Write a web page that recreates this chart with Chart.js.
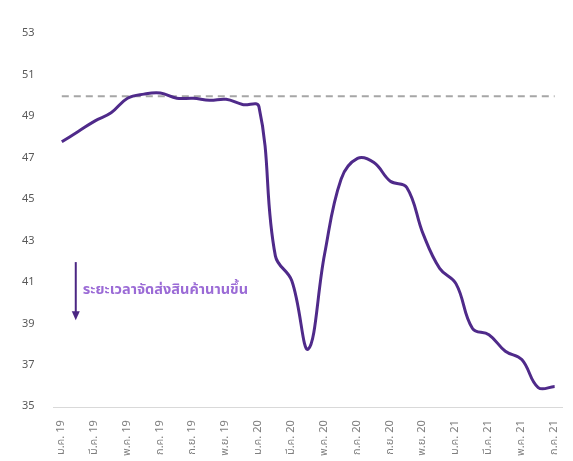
<!DOCTYPE html>
<html>
<head>
<meta charset="utf-8">
<script src="https://cdn.jsdelivr.net/npm/chart.js@4/dist/chart.umd.min.js"></script>
<style>
  html, body { margin: 0; padding: 0; background: #fff; }
  #box { width: 573px; height: 461px; }
</style>
</head>
<body>
<div id="box"><canvas id="grafico"></canvas></div>
<script>
// dados (mensal, ม.ค. 19 a ก.ค. 21)
const meses = [
  'ม.ค. 19','ก.พ. 19','มี.ค. 19','เม.ย. 19','พ.ค. 19','มิ.ย. 19','ก.ค. 19','ส.ค. 19','ก.ย. 19','ต.ค. 19','พ.ย. 19','ธ.ค. 19',
  'ม.ค. 20','ก.พ. 20','มี.ค. 20','เม.ย. 20','พ.ค. 20','มิ.ย. 20','ก.ค. 20','ส.ค. 20','ก.ย. 20','ต.ค. 20','พ.ย. 20','ธ.ค. 20',
  'ม.ค. 21','ก.พ. 21','มี.ค. 21','เม.ย. 21','พ.ค. 21','มิ.ย. 21','ก.ค. 21'
];
const valores = [
  47.8, 48.3, 48.8, 49.2, 49.9, 50.1, 50.15, 49.9, 49.9, 49.8, 49.85, 49.6,
  49.5, 42.3, 41.1, 37.8, 42.4, 46.0, 47.0, 46.8, 45.9, 45.6, 43.35, 41.7,
  40.95, 38.8, 38.5, 37.7, 37.3, 35.95, 36.0
];
const linhaReferencia = 50;
const ticksY = [35, 37, 39, 41, 43, 45, 47, 49, 51, 53];
const textoAnotacao = 'ระยะเวลาจัดส่งสินค้านานขึ้น';

const fonteThai = "'Noto Sans Thai', Tahoma, 'Noto Sans', sans-serif";

// seta + texto da anotacao, posicionados pelas escalas
const pluginAnotacao = {
  id: 'anotacao',
  afterDatasetsDraw(chart) {
    const { ctx, scales } = chart;
    const x = scales.x.getPixelForValue(0.85);
    const yTopo = scales.y.getPixelForValue(42.0);
    const yFim = scales.y.getPixelForValue(39.2);
    ctx.save();
    ctx.strokeStyle = '#4B2683';
    ctx.fillStyle = '#4B2683';
    ctx.lineWidth = 2;
    ctx.beginPath();
    ctx.moveTo(x, yTopo);
    ctx.lineTo(x, yFim - 8);
    ctx.stroke();
    ctx.beginPath();
    ctx.moveTo(x - 4, yFim - 9);
    ctx.lineTo(x + 4, yFim - 9);
    ctx.lineTo(x, yFim);
    ctx.closePath();
    ctx.fill();
    ctx.fillStyle = '#9B6BD6';
    ctx.font = 'bold 14.5px ' + fonteThai;
    ctx.textBaseline = 'middle';
    ctx.fillText(textoAnotacao, x + 7, scales.y.getPixelForValue(40.6));
    ctx.restore();
  }
};

document.addEventListener('DOMContentLoaded', () => {
  const contexto = document.getElementById('grafico').getContext('2d');
  new Chart(contexto, {
    type: 'line',
    data: {
      labels: meses,
      datasets: [
        {
          data: valores,
          borderColor: '#4F2A8A',
          borderWidth: 3,
          pointRadius: 0,
          tension: 0.4,
          fill: false
        },
        {
          data: meses.map(() => linhaReferencia),
          borderColor: '#A6A6A6',
          borderWidth: 2,
          borderDash: [7, 5],
          pointRadius: 0,
          tension: 0,
          fill: false
        }
      ]
    },
    options: {
      responsive: true,
      maintainAspectRatio: false,
      animation: false,
      layout: { padding: { top: 34, right: 10, left: 11, bottom: 0 } },
      plugins: {
        legend: { display: false },
        tooltip: { enabled: false }
      },
      scales: {
        x: {
          offset: true,
          grid: { display: false },
          border: { display: true, color: '#D9D9D9', width: 1 },
          ticks: {
            autoSkip: false,
            minRotation: 90,
            maxRotation: 90,
            padding: 5,
            color: '#7F7F7F',
            font: { size: 11, family: fonteThai },
            callback: (v, i) => (i % 2 === 0 ? meses[i] : '')
          }
        },
        y: {
          min: 35,
          max: 53,
          afterBuildTicks: escala => { escala.ticks = ticksY.map(v => ({ value: v })); },
          grid: { display: false },
          border: { display: false },
          ticks: {
            padding: 11,
            color: '#595959',
            font: { size: 11, family: fonteThai }
          }
        }
      }
    },
    plugins: [pluginAnotacao]
  });
});
</script>
</body>
</html>
